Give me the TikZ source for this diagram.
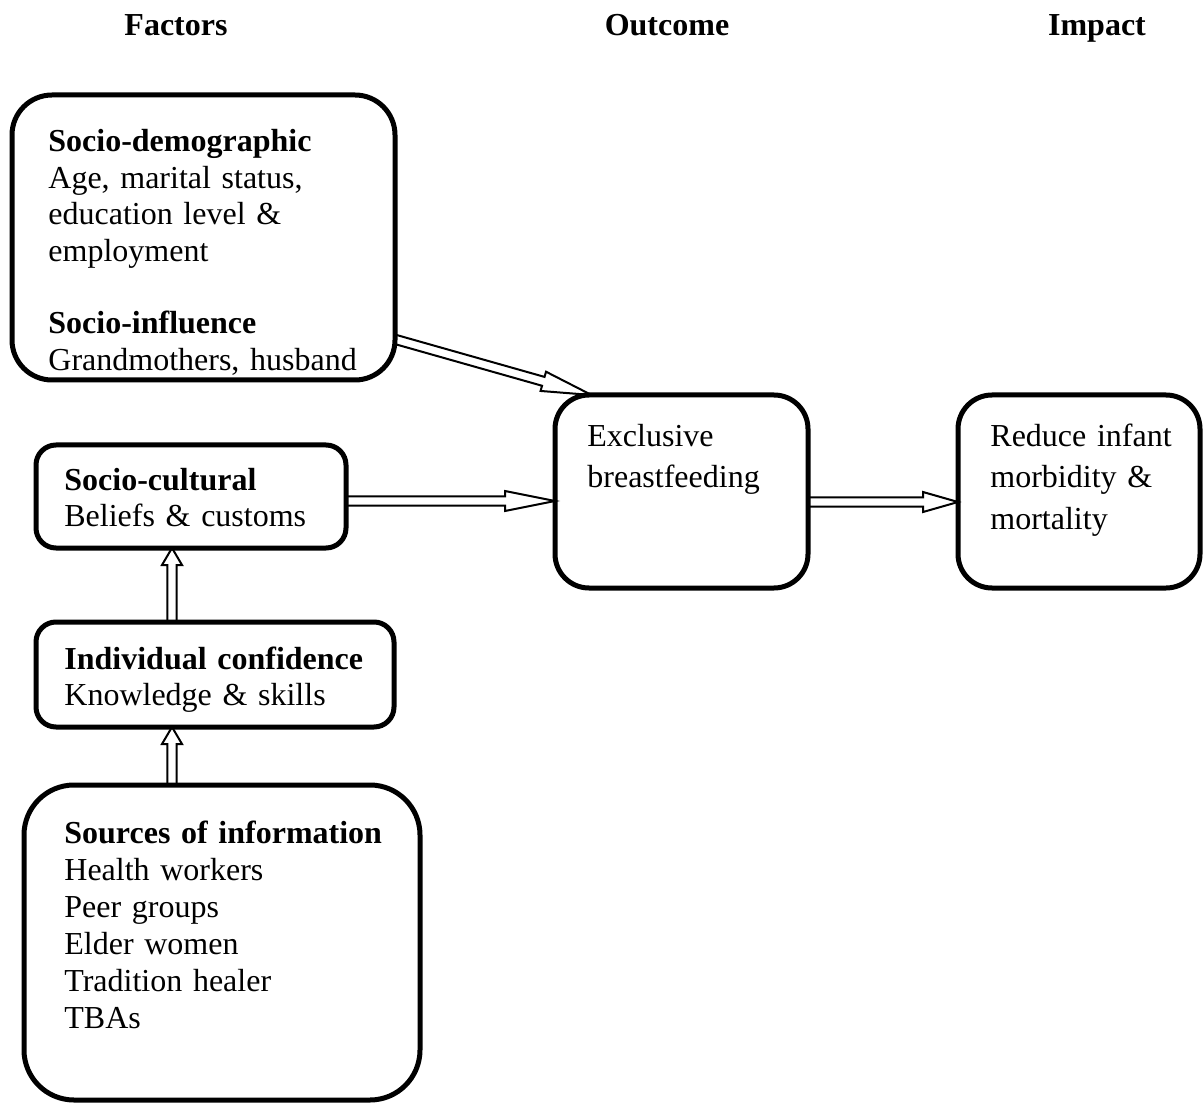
\documentclass[tikz,border=0pt]{standalone}
\usepackage{fontspec}
\setmainfont{Liberation Serif}
\usetikzlibrary{calc}
\begin{document}
\begin{tikzpicture}[x=0.5pt,y=-0.5pt,
 box/.style={draw, line width=2.5pt, rectangle, inner sep=0pt, outer sep=0pt},
 txt/.style={anchor=base west, inner sep=0pt, text width=220pt, align=left, font=\fontsize{16}{18.2}\selectfont},
 txtb/.style={txt, font=\fontsize{16}{20.8}\selectfont},
 head/.style={anchor=base, inner sep=0pt, font=\fontsize{16}{18}\selectfont\bfseries},
 hollowarrow/.style={line width=1pt, line join=miter, to path={
   let \p1=(\tikztostart), \p2=(\tikztotarget),
       \n1={atan2(\y2-\y1,\x2-\x1)},
       \n2={veclen(\x2-\x1,\y2-\y1)-#1} in
   ($(\p1)+({\n1+90}:2.3pt)$) -- ($(\p1)+(\n1:\n2)+({\n1+90}:2.3pt)$)
   -- ($(\p1)+(\n1:\n2)+({\n1+90}:5pt)$) -- (\p2)
   -- ($(\p1)+(\n1:\n2)+({\n1-90}:5pt)$)
   -- ($(\p1)+(\n1:\n2)+({\n1-90}:2.3pt)$) -- ($(\p1)+({\n1-90}:2.3pt)$)}}]
\useasboundingbox (0,0) rectangle (1203,1106);

% headings
\node[head] (hf) at (176,36) {Factors};
\node[head] (ho) at (667,36) {Outcome};
\node[head] (hi) at (1097,36) {Impact};

% boxes
\node[box, rounded corners=20pt, minimum width=191.5pt, minimum height=142.5pt] (sd) at (203.5,237.5) {};
\node[box, rounded corners=10pt, minimum width=155pt, minimum height=51.5pt] (sc) at (191,496.5) {};
\node[box, rounded corners=10pt, minimum width=179pt, minimum height=52.5pt] (ic) at (215,674.5) {};
\node[box, rounded corners=25pt, minimum width=198pt, minimum height=157.5pt] (si) at (222,942.5) {};
\node[box, rounded corners=17pt, minimum width=126.5pt, minimum height=96.5pt] (eb) at (681.5,491.5) {};
\node[box, rounded corners=17pt, minimum width=121pt, minimum height=96.5pt] (rc) at (1079,491.5) {};

% texts
\node[txt] (sdt) at (48,152) {\textbf{Socio-demographic}\\Age, marital status,\\education level \&\\employment\\[18.2pt]\textbf{Socio-influence}\\Grandmothers, husband};
\node[txt] (sct) at (64,490) {\textbf{Socio-cultural}\\Beliefs \& customs};
\node[txt] (ict) at (64,669) {\textbf{Individual confidence}\\Knowledge \& skills};
\node[txt, font=\fontsize{16}{18.5}\selectfont] (sit) at (64,843) {\textbf{Sources of information}\\Health workers\\Peer groups\\Elder women\\Tradition healer\\TBAs};
\node[txtb] (ebt) at (587,446) {Exclusive\\breastfeeding};
\node[txtb] (rct) at (990,446) {Reduce infant\\morbidity \&\\mortality};

% guide coordinates for straight arrows
\coordinate (vx) at (172,0);
\coordinate (hy1) at (0,501);
\coordinate (hy2) at (0,502);

% arrows
\draw[hollowarrow=25pt] (sd.-28.5) to (eb.133.5);
\draw[hollowarrow=25pt] (sc.east |- hy1) to (eb.west |- hy1);
\draw[hollowarrow=17.5pt] (eb.east |- hy2) to (rc.west |- hy2);
\draw[hollowarrow=8.5pt] (ic.north -| vx) to (sc.south -| vx);
\draw[hollowarrow=8.5pt] (si.north -| vx) to (ic.south -| vx);
\end{tikzpicture}
\end{document}
